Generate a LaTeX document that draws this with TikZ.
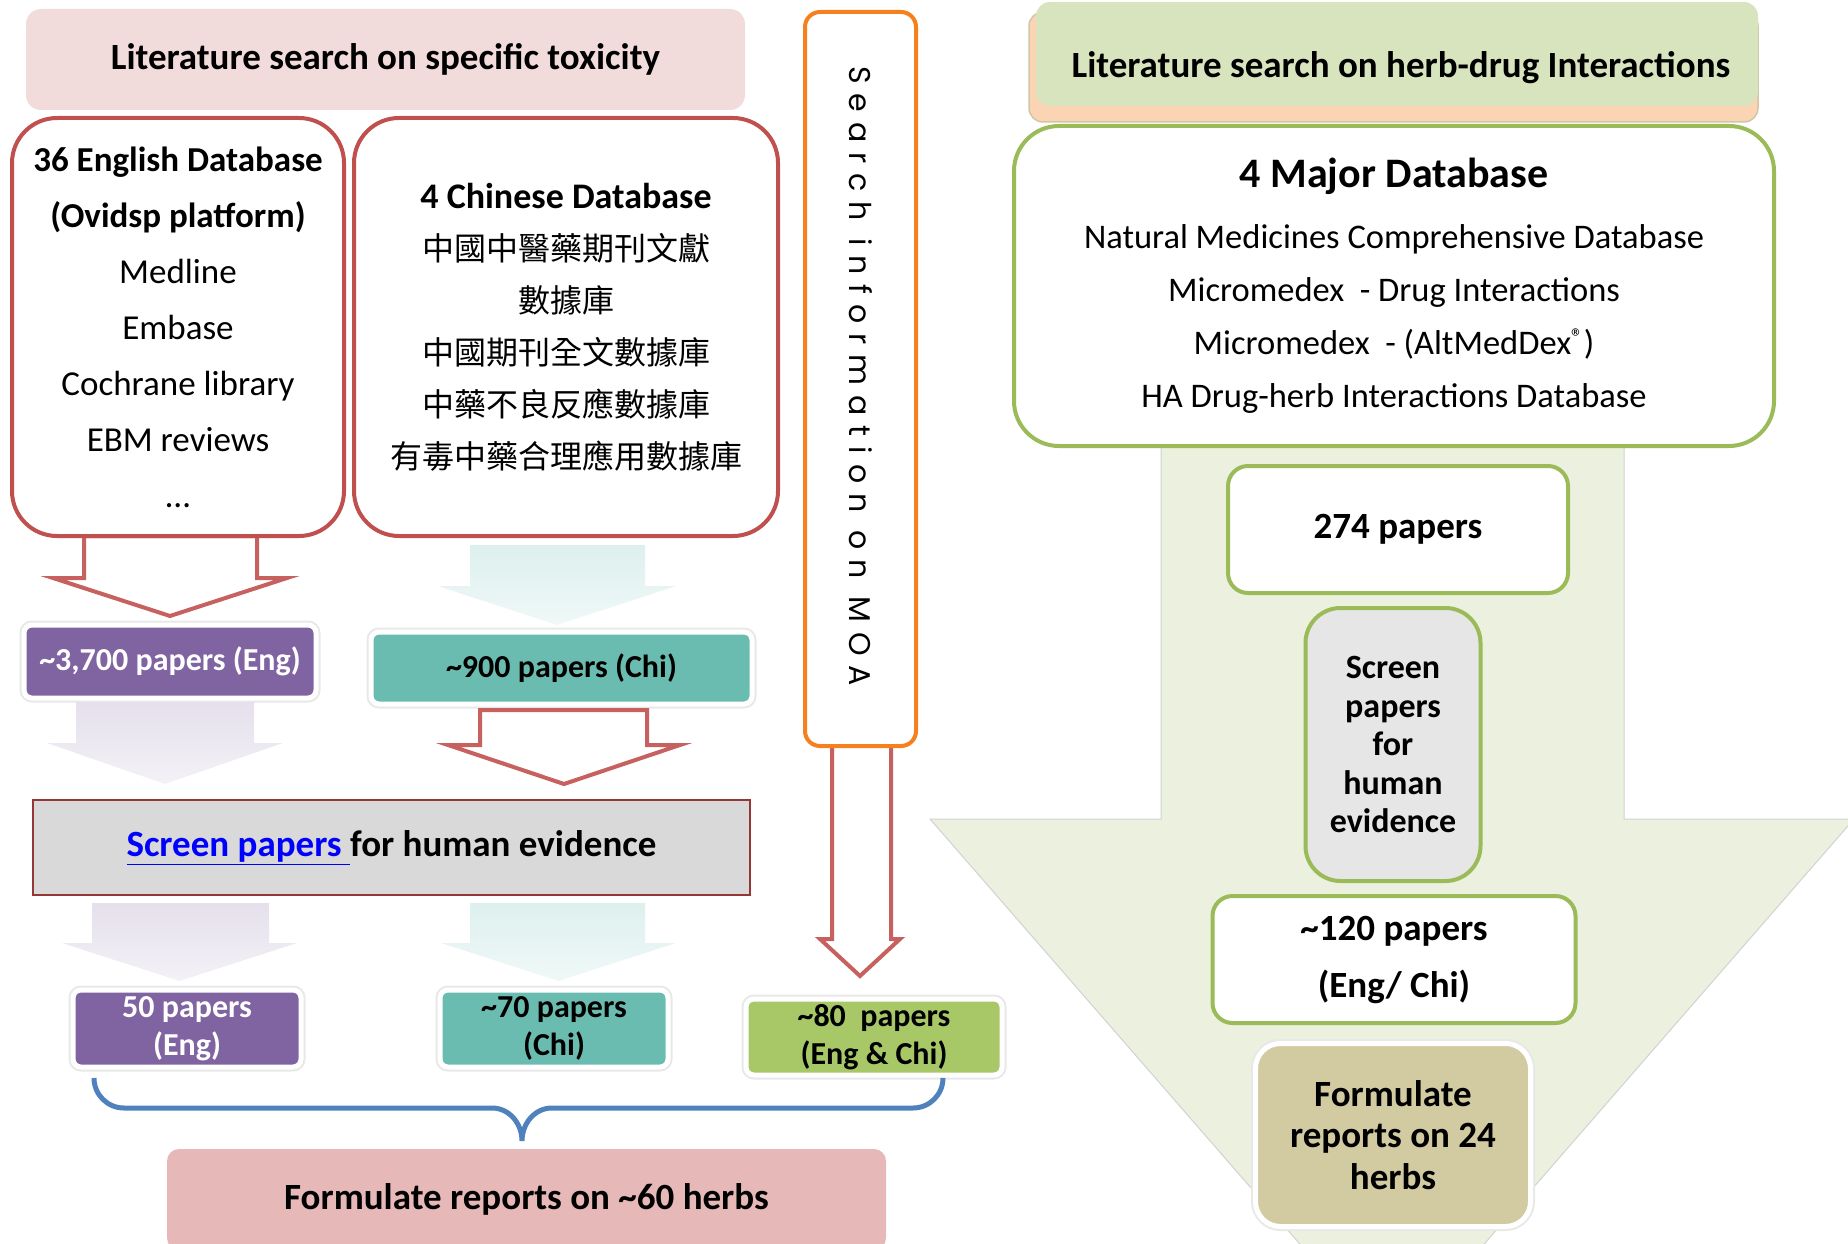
\documentclass[tikz,border=0pt]{standalone}
\usepackage{fontspec}
\setmainfont{Carlito}
\newfontfamily\cjk{Noto Sans CJK TC}
\newfontfamily\moafont[LetterSpace=33]{Poppins}
\usepackage{xcolor}
\usepackage{tikz}
\usetikzlibrary{positioning}

\definecolor{dbred}{HTML}{C0504D}
\definecolor{titlepink}{HTML}{F2DCDB}
\definecolor{engpurple}{HTML}{8064A2}
\definecolor{chiteal}{HTML}{6BBCB0}
\definecolor{mixgreen}{HTML}{A8C868}
\definecolor{lavfade}{HTML}{E5E0EC}
\definecolor{tealfade}{HTML}{DDF0EE}
\definecolor{screengray}{HTML}{D9D9D9}
\definecolor{screenedge}{HTML}{953735}
\definecolor{linkblue}{HTML}{0000FF}
\definecolor{braceblue}{HTML}{4F81BD}
\definecolor{reppink}{HTML}{E6B9B8}
\definecolor{hdigreen}{HTML}{D7E4BD}
\definecolor{hdipeach}{HTML}{FBD4B4}
\definecolor{hditan}{HTML}{CFC6A8}
\definecolor{majgreen}{HTML}{9BBB59}
\definecolor{bigarrow}{HTML}{EBF1DE}
\definecolor{lightgray}{HTML}{E6E6E6}
\definecolor{reptan}{HTML}{D2CAA1}
\definecolor{moaorange}{HTML}{F7801E}

% block arrow pointing down: style, shaft left/right, top, head y, head left/right, tip y
\newcommand{\blockdown}[8]{\path[#1] (#2,#4) -- (#2,#5) -- (#6,#5) -- ({(#6+#7)/2},#8) -- (#7,#5) -- (#3,#5) -- (#3,#4) -- cycle;}

\begin{document}
\begin{tikzpicture}[x=1pt,y=-1pt]
  \tikzstyle{dbbox}=[draw=dbred,line width=4pt,rounded corners=45pt,fill=white,align=center,inner sep=0pt]
  \tikzstyle{paper}=[rounded corners=8pt,align=center,inner sep=0pt,font=\bfseries\fontsize{32}{38}\selectfont,preaction={draw=gray!18,line width=9pt},draw=white,line width=5pt]
  \tikzstyle{greenbox}=[draw=majgreen,line width=4pt,fill=white,align=center,inner sep=0pt,font=\bfseries\fontsize{37}{57}\selectfont]
  \tikzstyle{outarrow}=[draw=dbred!90,line width=4pt,fill=white,line join=miter]
  \tikzstyle{lavarrow}=[top color=lavfade,middle color=lavfade,bottom color=lavfade!45]
  \tikzstyle{tealarrow}=[top color=tealfade,middle color=tealfade,bottom color=tealfade!45]
  \useasboundingbox (0,0) rectangle (1848,1244);
  \clip (0,0) rectangle (1848,1244);

  % left: toxicity search
  \node[fill=titlepink,rounded corners=15pt,minimum width=719,minimum height=101,font=\bfseries\fontsize{37}{45}\selectfont] (toxtitle) at (385.5,59.5) {Literature search on specific toxicity};

  \blockdown{outarrow}{84}{257}{536}{578}{53}{287}{616}
  \blockdown{tealarrow}{470}{645}{545}{586}{438}{676}{625}
  \node[dbbox,minimum width=332,minimum height=418,font=\fontsize{35}{56}\selectfont] (engdb) at (178,327)
    {\textbf{36 English Database}\\ \textbf{(Ovidsp platform)}\\ Medline\\ Embase\\ Cochrane library\\ EBM reviews\\ \dots};
  \node[dbbox,minimum width=424,minimum height=418,font=\fontsize{32}{52}\selectfont] (chidb) at (566,327)
    {{\bfseries\fontsize{36}{52}\selectfont 4 Chinese Database}\\ {\cjk 中國中醫藥期刊文獻}\\ {\cjk 數據庫}\\ {\cjk 中國期刊全文數據庫}\\ {\cjk 中藥不良反應數據庫}\\ {\cjk 有毒中藥合理應用數據庫}};

  \node[paper,fill=engpurple,text=white,minimum width=292,minimum height=73] (eng3700) at (170,661.5) {\textasciitilde3,700 papers (Eng)};
  \node[paper,fill=chiteal,minimum width=381,minimum height=72] (chi900) at (561.5,668) {\textasciitilde900 papers (Chi)};

  \blockdown{lavarrow}{76}{254}{702}{743}{47}{283}{784}
  \blockdown{outarrow}{480}{647}{710}{745}{448}{680}{784}

  \node[fill=screengray,draw=screenedge,line width=2pt,minimum width=717,minimum height=95,inner sep=0pt,font=\bfseries\fontsize{37}{45}\selectfont] (screenl) at (391.5,847.5)
    {\textcolor{linkblue}{\underline{Screen papers\ }}for human evidence};

  \blockdown{lavarrow}{92}{269}{903}{943}{62}{297}{981}
  \blockdown{tealarrow}{470}{645}{903}{943}{441}{676}{981}

  % MOA column
  \blockdown{outarrow}{832}{891}{740}{939}{820}{900}{976}
  \node[draw=moaorange,line width=4pt,fill=white,rounded corners=15pt,minimum width=111,minimum height=734] (moa) at (860.5,379) {};
  \node[rotate=-90,font=\moafont\fontsize{30}{30}\selectfont] (moatxt) at (861,376) {Search information on MOA};

  \node[paper,fill=engpurple,text=white,minimum width=228,minimum height=77] (eng50) at (187,1028.5) {50 papers\\(Eng)};
  \node[paper,fill=chiteal,minimum width=228,minimum height=77] (chi70) at (554,1028.5) {\textasciitilde70 papers\\(Chi)};
  \node[paper,fill=mixgreen,minimum width=256,minimum height=76] (both80) at (874,1037) {\textasciitilde80\ \ papers\\(Eng \& Chi)};

  \draw[braceblue,line width=5pt] (94,1078) to[out=-90,in=180] (124,1108) -- (492,1108) to[out=0,in=90] (522,1141)
    to[out=90,in=180] (552,1108) -- (913,1108) to[out=0,in=-90] (943,1078);

  \node[fill=reppink,rounded corners=12pt,minimum width=719,minimum height=101,font=\bfseries\fontsize{37}{45}\selectfont] (rep60) at (526.5,1199.5) {Formulate reports on \textasciitilde60 herbs};

  % right: herb-drug interactions
  \path[fill=bigarrow,draw=gray!35,line width=1pt] (1161,440) -- (1161,819) -- (930,819) -- (1392,1350) -- (1854,819) -- (1624,819) -- (1624,440);

  \node[fill=hdipeach,draw=hditan,line width=1.5pt,rounded corners=14pt,minimum width=729,minimum height=110] (hdishadow) at (1393.5,67) {};
  \node[fill=hdigreen,rounded corners=14pt,minimum width=722,minimum height=104] (hdibox) at (1397,54) {};
  \node[font=\bfseries\fontsize{37}{45}\selectfont] (hdititle) at (1401,68) {Literature search on herb-drug Interactions};

  \node[greenbox,rounded corners=45pt,minimum width=760,minimum height=320,font=\fontsize{34.5}{53}\selectfont] (majordb) at (1394,286)
    {{\bfseries\fontsize{42}{53}\selectfont 4 Major Database}\\[8pt] Natural Medicines Comprehensive Database\\ Micromedex\ \ - Drug Interactions\\ Micromedex\ \ - (AltMedDex\textsuperscript{®})\\ HA Drug-herb Interactions Database};

  \node[greenbox,rounded corners=20pt,minimum width=340,minimum height=127] (p274) at (1398,529.5) {274 papers};
  \node[greenbox,fill=lightgray,rounded corners=35pt,minimum width=175,minimum height=273,font=\bfseries\fontsize{34}{38.5}\selectfont,below=11pt of p274,xshift=-5pt] (screenr) {Screen\\papers\\for\\human\\evidence};
  \node[greenbox,rounded corners=20pt,minimum width=363,minimum height=127,below=11pt of screenr,xshift=1pt] (p120) {\textasciitilde120 papers\\(Eng/ Chi)};
  \node[paper,fill=reptan,rounded corners=25pt,minimum width=275,minimum height=183,font=\bfseries\fontsize{37}{41.5}\selectfont,below=16pt of p120,xshift=-1pt] (rep24) {Formulate\\reports on 24\\herbs};
\end{tikzpicture}
\end{document}
